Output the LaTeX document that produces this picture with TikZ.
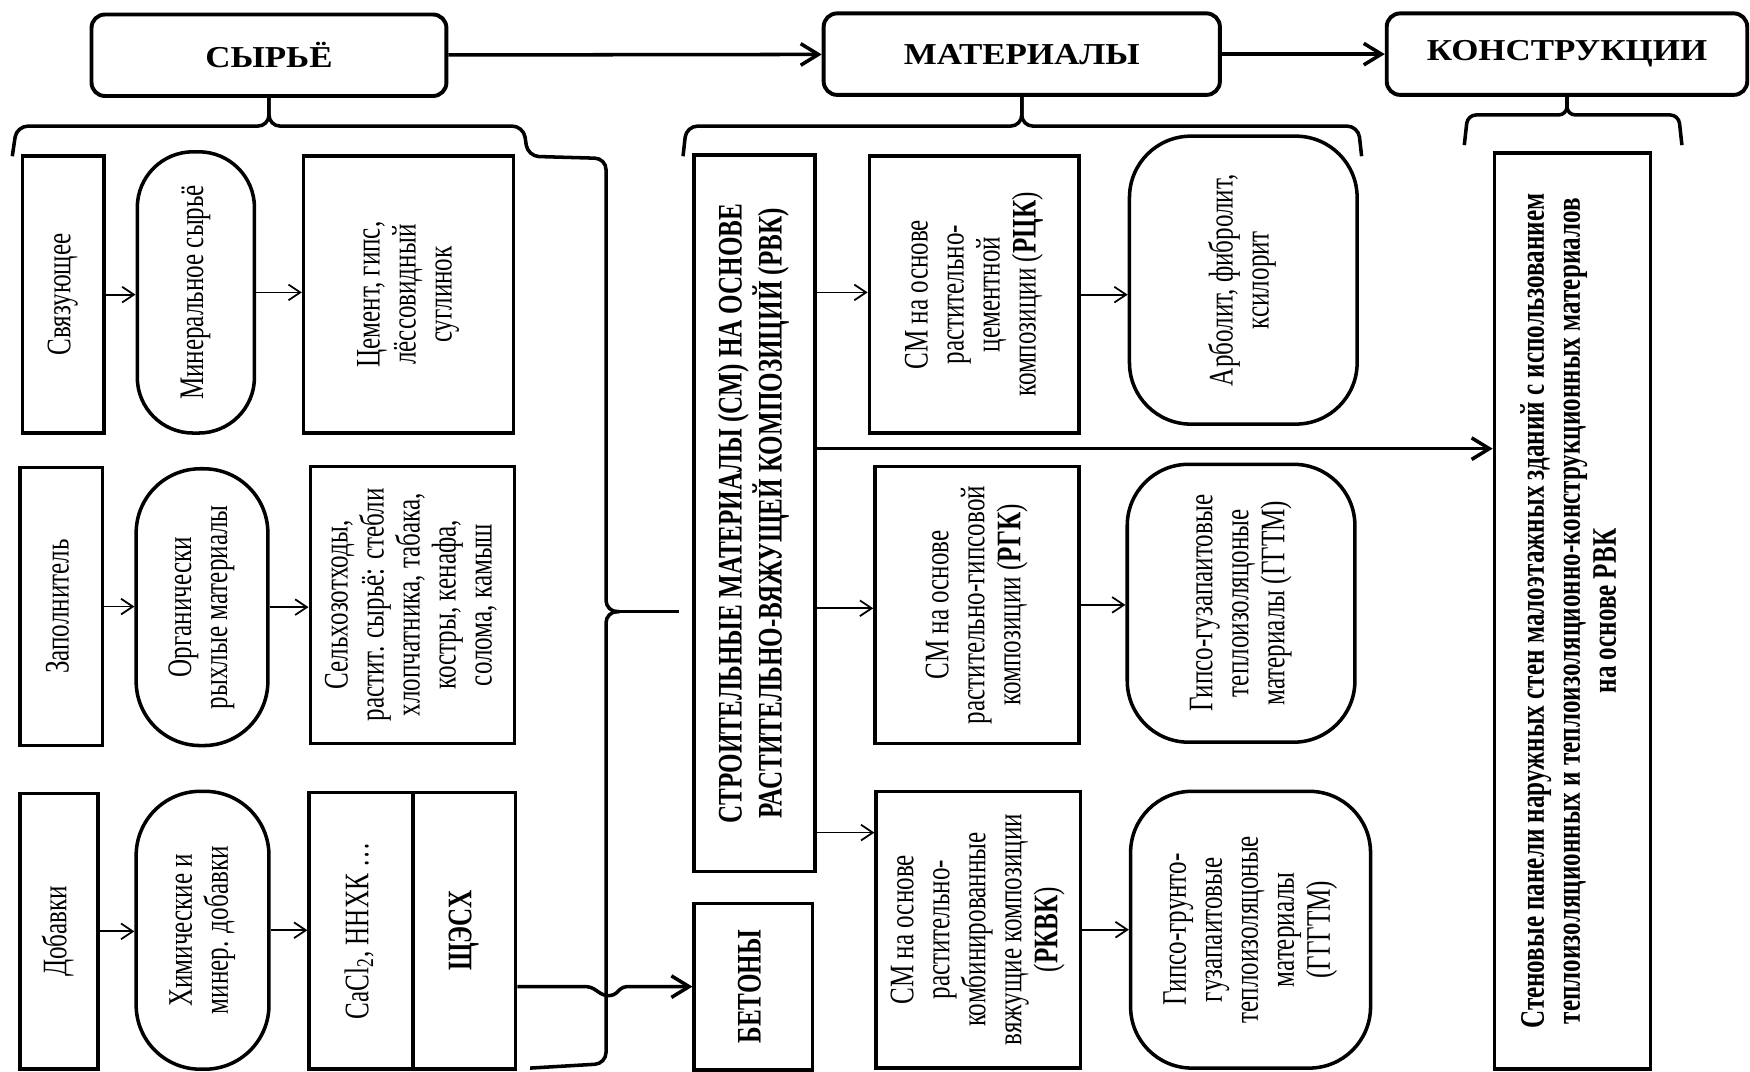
\documentclass[tikz,border=0pt]{standalone}
\usepackage{fontspec}
\setmainfont{Liberation Serif}
\usepackage{graphicx}
\usepackage{tikz}
\usetikzlibrary{arrows.meta,calc}
\newcommand{\fs}{\fontsize{12.8pt}{13.4pt}\selectfont}
% vertical (rotated) text, a bit widened across the lines
\newcommand{\vt}[1]{\rotatebox{90}{\scalebox{1}[1.37]{\begin{tabular}{@{}c@{}}#1\end{tabular}}}}
\newcommand{\hd}[1]{{\fontsize{15.5pt}{16pt}\selectfont\scalebox{1.15}[1]{\textbf{#1}}}}
\tikzset{
  box/.style={draw,line width=1.8pt,inner sep=0pt,font=\fs},
  wh/.style 2 args={minimum width=#1*0.02cm,minimum height=#2*0.02cm},
  hdr/.style={box,line width=2pt,rounded corners=0.24cm},
  pill/.style={box,rounded corners=#1},
  arr/.style={-{Straight Barb[length=6pt,width=8pt]},line width=0.9pt},
  tarr/.style={-{Straight Barb[length=9pt,width=11pt]},line width=1.8pt},
  brk/.style={line width=1.8pt,rounded corners=0.2cm},
}

\begin{document}
\begin{tikzpicture}[x=0.02cm,y=-0.02cm]
\useasboundingbox (0,0) rectangle (1568,960);
% Headers
\node[hdr,wh={318}{73}] (syr) at (241,49.5) {\hd{СЫРЬЁ}};
\node[hdr,wh={355}{73}] (mat) at (915.5,48.5) {\hd{МАТЕРИАЛЫ}};
\node[hdr,wh={323}{73}] (kon) at (1404,48.5) {\hd{КОНСТРУКЦИИ}};
\draw[tarr] (syr) -- (mat);
\draw[tarr] (mat) -- (kon);

% Brackets under the headers
\coordinate (tip) at (555,548);
\draw[brk] (11,140) -- (15,113) -- (syr.south |- 0,113) -- (syr.south);
\draw[brk] (syr.south) -- (syr.south |- 0,113) -- (469,113) -- (473,140)
  -- (543,142) -- (543,548) -- (tip);
\draw[brk] (tip) -- (543,548) -- (543,953) -- (475,957);
\draw[brk] (612,140) -- (615,113) -- (mat.south |- 0,113) -- (mat.south);
\draw[brk] (1220,140) -- (1217,113) -- (mat.south |- 0,113) -- (mat.south);
\draw[brk,rounded corners=0.15cm] (1312,130) -- (1315,103) -- (kon.south |- 0,103) -- (kon.south);
\draw[brk,rounded corners=0.15cm] (1507,130) -- (1504,103) -- (kon.south |- 0,103) -- (kon.south);

% Raw materials: binder
\node[box,wh={73}{248}] (svz) at (56.5,264) {\vt{Связующее}};
\node[pill=1cm,wh={105}{252}] (mnr) at (175.5,262) {\vt{Минеральное сырьё}};
\node[box,wh={188}{248}] (cem) at (366,264) {\vt{Цемент, гипс,\\лёссовидный\\суглинок}};
% filler
\node[box,wh={74}{249}] (zap) at (55,543.5) {\vt{Заполнитель}};
\node[pill=1.15cm,wh={118}{248}] (org) at (181,544) {\vt{Органически\\рыхлые материалы}};
\node[box,wh={183}{248}] (sel) at (369.5,542)
  {\vt{Сельхозотходы,\\растит. сырьё: стебли\\хлопчатника, табака,\\костры, кенафа,\\солома, камыш}};
% additives
\node[box,wh={70}{247}] (dob) at (53,834.5) {\vt{Добавки}};
\node[pill=1.15cm,wh={119}{249}] (xim) at (181.5,833.5) {\vt{Химические и\\минер. добавки}};
\node[box,wh={93}{248}] (cacl) at (323.5,834) {\vt{CaCl\textsubscript{2}, ННХК …}};
\node[box,wh={92}{248}] (shx) at (416,834) {\vt{\textbf{ЩЭСХ}}};
\foreach \a/\b in {svz/mnr,mnr/cem,zap/org,org/sel,dob/xim,xim/cacl}
  \draw[arr] (\a.east) -- (\b.west |- \a.east);

% Materials
\node[box,wh={108}{642}] (stroit) at (676,460)
  {\vt{\textbf{СТРОИТЕЛЬНЫЕ МАТЕРИАЛЫ (СМ) НА ОСНОВЕ}\\\textbf{РАСТИТЕЛЬНО-ВЯЖУЩЕЙ КОМПОЗИЦИЙ (РВК)}}};
\node[box,wh={106}{149}] (beton) at (675,884) {\vt{\textbf{БЕТОНЫ}}};
\draw[line width=1.8pt,shorten >=0.24cm] (tip) -- (stroit.west |- tip);
\draw[tarr,rounded corners=2pt] (shx.east |- beton.west) -- (529,884) -- (541,892)
  -- (550,892) -- (558,884) -- (beton.west);
\node[box,wh={188}{248}] (rck) at (873,264)
  {\vt{СМ на основе\\растительно-\\цементной\\композиции (\textbf{РЦК})}};
\node[box,wh={183}{248}] (rgk) at (875.5,542)
  {\vt{СМ на основе\\растительно-гипсовой\\композиции (\textbf{РГК})}};
\node[box,wh={183}{248}] (rkvk) at (876.5,833)
  {\vt{СМ на основе\\растительно-\\комбинированные\\вяжущие композиции\\(\textbf{РКВК})}};
\node[pill=1.1cm,wh={204}{258}] (arb) at (1114,251) {\vt{Арболит, фибролит,\\ксилорит}};
\node[pill=1.1cm,wh={204}{249}] (ggtm) at (1112,540.5)
  {\vt{Гипсо-гузапаитовые\\теплоизоляцоные\\материалы (ГГТМ)}};
\node[pill=1.1cm,wh={215}{248}] (gggtm) at (1120.5,833)
  {\vt{Гипсо-грунто-\\гузапаитовые\\теплоизоляцоные\\материалы\\(ГГГТМ)}};
\foreach \t/\y in {rck/262,rgk/545,rkvk/746}
  \draw[arr] (stroit.east |- 0,\y) -- (\t.west |- 0,\y);
\foreach \a/\b in {rck/arb,rgk/ggtm,rkvk/gggtm}
  \draw[arr] (\a.east) -- (\b.west |- \a.east);

% Constructions
\node[box,wh={140}{821}] (sten) at (1409,547.5)
  {\vt{\textbf{Стеновые панели наружных стен малоэтажных зданий с использованием}\\
   \textbf{теплоизоляционных и теплоизоляционно-конструкционных материалов}\\
   \textbf{на основе РВК}}};
\draw[tarr] (stroit.east |- 0,402) -- (sten.west |- 0,402);
\end{tikzpicture}
\end{document}
